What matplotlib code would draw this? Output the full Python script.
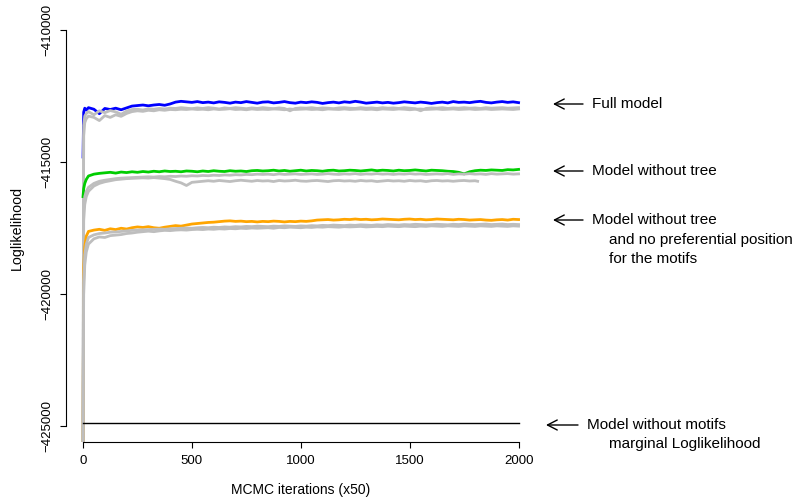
import matplotlib
matplotlib.use("Agg")
import matplotlib.pyplot as plt
from matplotlib.ticker import FuncFormatter

plt.rcParams["font.family"] = ["Liberation Sans", "DejaVu Sans"]

# ── Data ──────────────────────────────────────────────────────────────────
# iterations: a few early points, then every 25 iterations up to 2000
ITER = [0, 3, 8, 15] + list(range(25, 2001, 25))

FULL = [-414800, -413100, -412950, -413020,
        -412930, -412990, -413160, -412960, -413000, -412950, -413010, -412940,
        -412870, -412850, -412830, -412860, -412830, -412810, -412840, -412790,
        -412720, -412690, -412710, -412730, -412700, -412740, -412720, -412750,
        -412710, -412730, -412760, -412720, -412740, -412700, -412730, -412760,
        -412720, -412710, -412750, -412730, -412700, -412740, -412760, -412720,
        -412740, -412710, -412730, -412770, -412740, -412720, -412750, -412710,
        -412730, -412690, -412720, -412760, -412740, -412720, -412750, -412730,
        -412760, -412740, -412710, -412730, -412750, -412720, -412740, -412770,
        -412740, -412720, -412750, -412700, -412730, -412720, -412740, -412710,
        -412690, -412730, -412750, -412720, -412700, -412730, -412710, -412740]

FULL_GRAY_A = [-426000, -413600, -413250, -413150,
               -413080, -413200, -413050, -413120, -413040, -413090, -413180, -413060,
               -413000, -412990, -413020, -412970, -412990, -412960, -412980, -412950,
               -412960, -412930, -412950, -412970, -412940, -412960, -412930, -412950,
               -412980, -412940, -412960, -412930, -412950, -412970, -412940, -412960,
               -412930, -412950, -412970, -412940, -412960, -413050, -412960, -412940,
               -412950, -412930, -412960, -412940, -412950, -412970, -412940, -412930,
               -412950, -412960, -412930, -412950, -412940, -412960, -412930, -412950,
               -412940, -412960, -412930, -412950, -412970, -413050, -412960, -412940,
               -412950, -412930, -412960, -412940, -412950, -412930, -412950, -412940,
               -412960, -412930, -412950, -412940, -412930, -412950, -412940, -412930]

FULL_GRAY_B = [-426000, -414000, -413500, -413350,
               -413250, -413300, -413420, -413230, -413300, -413200, -413260, -413150,
               -413080, -413050, -413070, -413030, -413050, -413010, -413030, -413000,
               -413010, -412990, -413000, -412980, -413000, -412990, -413010, -412980,
               -413000, -412990, -412970, -413000, -412990, -413010, -412980, -413000,
               -412990, -413000, -412980, -412990, -413010, -412980, -413000, -412990,
               -412980, -413000, -412990, -413010, -412980, -412990, -413000, -412980,
               -413000, -412990, -412980, -413000, -412990, -413010, -412980, -412990,
               -413000, -412980, -412990, -413010, -412990, -412980, -413000, -412990,
               -412980, -413000, -412990, -412980, -413000, -412990, -412980, -413000,
               -412990, -412980, -413000, -412990, -412980, -412990, -413000, -412980]

NOTREE = [-416300, -416000, -415800, -415650,
          -415520, -415450, -415420, -415400, -415380, -415410, -415370, -415390,
          -415360, -415380, -415350, -415370, -415340, -415360, -415330, -415350,
          -415340, -415360, -415330, -415340, -415360, -415330, -415350, -415320,
          -415340, -415350, -415320, -415340, -415330, -415350, -415320, -415310,
          -415330, -415320, -415300, -415330, -415310, -415340, -415320, -415300,
          -415330, -415310, -415320, -415340, -415310, -415300, -415330, -415320,
          -415300, -415310, -415330, -415310, -415290, -415320, -415300, -415310,
          -415330, -415300, -415320, -415310, -415290, -415310, -415330, -415300,
          -415310, -415320, -415340, -415350, -415380, -415440, -415360, -415320,
          -415300, -415310, -415290, -415300, -415310, -415280, -415290, -415270]

NOTREE_GRAY_A = [-426000, -416800, -416300, -416100,
                 -415950, -415800, -415720, -415680, -415650, -415620, -415600, -415590,
                 -415580, -415570, -415560, -415550, -415560, -415540, -415550, -415530,
                 -415540, -415520, -415530, -415510, -415520, -415500, -415510, -415490,
                 -415500, -415480, -415490, -415470, -415480, -415460, -415470, -415450,
                 -415460, -415450, -415470, -415440, -415460, -415450, -415440, -415460,
                 -415450, -415440, -415460, -415450, -415430, -415450, -415460, -415440,
                 -415450, -415430, -415460, -415440, -415450, -415430, -415450, -415440,
                 -415460, -415440, -415450, -415430, -415450, -415440, -415460, -415450,
                 -415440, -415450, -415430, -415460, -415440, -415450, -415430, -415450,
                 -415440, -415460, -415430, -415450, -415440, -415430, -415450, -415440]

# this chain stops a little after 1800 iterations
NOTREE_GRAY_B_ITER = ITER[:76] + [1812]
NOTREE_GRAY_B = [-426000, -417200, -416600, -416300,
                 -416100, -415900, -415800, -415740, -415700, -415660, -415640, -415620,
                 -415610, -415600, -415590, -415600, -415580, -415600, -415620, -415650,
                 -415720, -415780, -415880, -415760, -415740, -415720, -415700, -415720,
                 -415690, -415710, -415730, -415700, -415680, -415700, -415720, -415690,
                 -415710, -415700, -415730, -415690, -415710, -415700, -415680, -415710,
                 -415720, -415700, -415690, -415710, -415730, -415700, -415690, -415710,
                 -415700, -415720, -415690, -415710, -415700, -415730, -415710, -415690,
                 -415710, -415700, -415720, -415690, -415710, -415700, -415730, -415700,
                 -415690, -415710, -415700, -415720, -415700, -415690, -415710, -415700,
                 -415720]

NOPOS = [-426000, -419000, -418200, -417800,
         -417620, -417570, -417540, -417580, -417520, -417550, -417500, -417530,
         -417480, -417450, -417470, -417440, -417480, -417500, -417460, -417430,
         -417400, -417420, -417380, -417340, -417320, -417300, -417280, -417270,
         -417250, -417230, -417220, -417240, -417230, -417250, -417240, -417260,
         -417240, -417250, -417230, -417240, -417260, -417240, -417250, -417230,
         -417240, -417220, -417190, -417180, -417170, -417190, -417180, -417160,
         -417170, -417150, -417170, -417160, -417180, -417170, -417150, -417160,
         -417170, -417180, -417160, -417150, -417170, -417160, -417180, -417170,
         -417150, -417160, -417170, -417180, -417160, -417170, -417190, -417180,
         -417170, -417190, -417200, -417180, -417170, -417190, -417160, -417170]

NOPOS_GRAY_A = [-426000, -419500, -418500, -418100,
                -417850, -417750, -417700, -417680, -417650, -417640, -417620, -417600,
                -417580, -417570, -417560, -417550, -417540, -417530, -417540, -417520,
                -417510, -417500, -417490, -417500, -417480, -417470, -417480, -417460,
                -417470, -417450, -417460, -417440, -417450, -417430, -417440, -417420,
                -417430, -417440, -417420, -417430, -417410, -417420, -417430, -417410,
                -417420, -417400, -417410, -417390, -417400, -417380, -417390, -417400,
                -417380, -417390, -417370, -417380, -417390, -417370, -417380, -417360,
                -417370, -417380, -417360, -417370, -417350, -417360, -417370, -417360,
                -417350, -417360, -417370, -417350, -417360, -417340, -417350, -417360,
                -417350, -417340, -417360, -417350, -417340, -417360, -417350, -417360]

NOPOS_GRAY_B = [-426000, -420000, -418900, -418400,
                -418100, -417900, -417830, -417850, -417780, -417760, -417740, -417700,
                -417680, -417650, -417630, -417610, -417630, -417600, -417580, -417590,
                -417570, -417560, -417570, -417550, -417540, -417550, -417530, -417540,
                -417520, -417530, -417510, -417520, -417500, -417510, -417490, -417500,
                -417490, -417480, -417500, -417470, -417480, -417460, -417470, -417480,
                -417460, -417470, -417450, -417460, -417440, -417450, -417460, -417440,
                -417450, -417440, -417430, -417450, -417440, -417430, -417440, -417420,
                -417430, -417440, -417420, -417430, -417440, -417420, -417430, -417410,
                -417420, -417430, -417410, -417420, -417430, -417410, -417420, -417430,
                -417410, -417420, -417430, -417410, -417420, -417430, -417410, -417420]

MARGINAL_ITER = [0, 2000]
MARGINAL = [-424890, -424890]

Y_TICKS = [-425000, -420000, -415000, -410000]
X_TICKS = [0, 500, 1000, 1500, 2000]

BLUE, GREEN, ORANGE, GRAY = "#0000FF", "#00CD00", "#FFA500", "#BEBEBE"
LW = 2.0

W_PX, H_PX = 803, 498


def fpx(x, y):
    """pixel position (from top-left) -> figure fraction"""
    return x / W_PX, 1 - y / H_PX


fig = plt.figure(figsize=(W_PX / 100, H_PX / 100), dpi=100)
ax = fig.add_axes([65.6 / W_PX, 1 - 442 / H_PX, (536 - 65.6) / W_PX, (442 - 14.5) / H_PX])

# ── Traces ────────────────────────────────────────────────────────────────
ax.plot(ITER, FULL, color=BLUE, lw=LW)
ax.plot(ITER, FULL_GRAY_A, color=GRAY, lw=LW)
ax.plot(ITER, FULL_GRAY_B, color=GRAY, lw=LW)

ax.plot(ITER, NOTREE, color=GREEN, lw=LW)
ax.plot(ITER, NOTREE_GRAY_A, color=GRAY, lw=LW)
ax.plot(NOTREE_GRAY_B_ITER, NOTREE_GRAY_B, color=GRAY, lw=LW)

ax.plot(ITER, NOPOS, color=ORANGE, lw=LW)
ax.plot(ITER, NOPOS_GRAY_A, color=GRAY, lw=LW)
ax.plot(ITER, NOPOS_GRAY_B, color=GRAY, lw=LW)

ax.plot(MARGINAL_ITER, MARGINAL, color="black", lw=1.0)

# ── R-style axes ──────────────────────────────────────────────────────────
ax.set_xlim(-80, 2080)
ax.set_ylim(-425600, -409400)
for s in ("top", "right"):
    ax.spines[s].set_visible(False)
ax.spines["left"].set_bounds(Y_TICKS[0], Y_TICKS[-1])
ax.spines["bottom"].set_bounds(X_TICKS[0], X_TICKS[-1])
for s in ("left", "bottom"):
    ax.spines[s].set_linewidth(0.8)

ax.set_xticks(X_TICKS)
ax.set_yticks(Y_TICKS)
ax.yaxis.set_major_formatter(FuncFormatter(lambda v, p: f"{v:.0f}".replace("-", "\u2212")))
ax.tick_params(direction="out", length=4.3, width=0.8, labelsize=9.5)
ax.tick_params(axis="x", pad=5.0)
ax.tick_params(axis="y", pad=4.5, labelrotation=90)
for lab in ax.get_yticklabels():
    lab.set_va("center")

fig.text(*fpx(301, 490), "MCMC iterations (x50)", ha="center", va="center", fontsize=10)
fig.text(*fpx(17, 228), "Loglikelihood", ha="center", va="center", rotation=90, fontsize=10.3)

# ── Labels with arrows, to the right of the plot ──────────────────────────
arrow = dict(arrowstyle="->,head_length=0.35,head_width=0.18", lw=1.0, color="black",
             shrinkA=0, shrinkB=0, mutation_scale=20)


def label(y, x_tail, x_head, lines):
    ax.annotate("", xy=fpx(x_head, y), xytext=fpx(x_tail, y),
                xycoords="figure fraction", textcoords="figure fraction",
                arrowprops=arrow, annotation_clip=False)
    for (tx, ty, txt) in lines:
        fig.text(*fpx(tx, ty), txt, ha="left", va="center", fontsize=11)


label(104, 583, 553, [(592, 104, "Full model")])
label(171, 583, 553, [(592, 171, "Model without tree")])
label(220, 583, 553, [(592, 220, "Model without tree"),
                      (609, 240, "and no preferential position"),
                      (609, 259, "for the motifs")])
label(425, 578, 546, [(587, 425, "Model without motifs"),
                      (609, 444, "marginal Loglikelihood")])

fig.savefig("out.png", dpi=100)
